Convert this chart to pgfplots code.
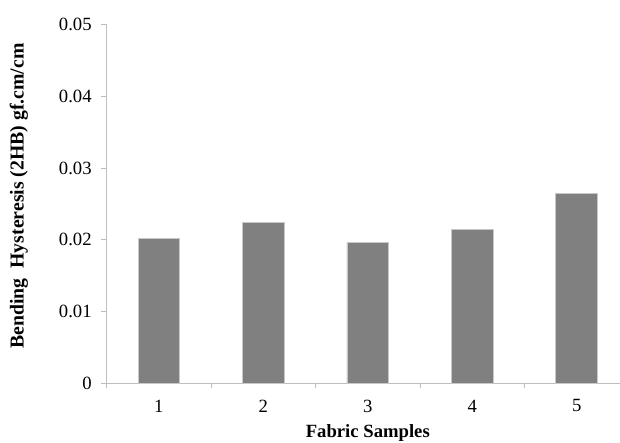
\documentclass[border=0pt]{standalone}
\usepackage{fontspec}
\setmainfont{Liberation Serif}
\usepackage{pgfplots}
\pgfplotsset{compat=1.18}
\definecolor{barfill}{RGB}{128,128,128}
\definecolor{baredge}{RGB}{200,200,200}
\definecolor{axgray}{RGB}{190,190,190}
\begin{document}
\fontsize{14pt}{16pt}\selectfont
\begin{tikzpicture}
\begin{axis}[
  name=ax, at={(0,0)}, anchor=south west,
  scale only axis, width=391.7pt, height=268.7pt,
  xmin=0.5, xmax=5.5, ymin=0, ymax=0.05,
  ybar, bar width=0.4,
  axis x line*=bottom, axis y line*=left,
  axis line style={-, draw=axgray, line width=0.75pt},
  tick align=outside, major tick length=3.9pt,
  tick style={draw=axgray, line width=0.75pt},
  scaled y ticks=false,
  ytick={0,0.01,0.02,0.03,0.04,0.05},
  yticklabels={0,0.01,0.02,0.03,0.04,0.05},
  yticklabel style={xshift=-2.5pt},
  xtick={0.5,1.5,2.5,3.5,4.5},
  xticklabels={},
  extra x ticks={1,2,3,4,5},
  extra x tick labels={1,2,3,4,5},
  extra x tick style={major tick length=0pt, xticklabel style={yshift=-7.7pt}},
  /pgf/number format/assume math mode=true,
  ticklabel style={font=\fontsize{14pt}{16pt}\selectfont},
  xlabel={\bfseries Fabric Samples},
  ylabel={\bfseries Bending\ \ Hysteresis (2HB) gf.cm/cm},
  xlabel style={font=\fontsize{14pt}{16pt}\selectfont, at={(axis description cs:0.5,-0.099)}, anchor=north},
  ylabel style={font=\fontsize{14.8pt}{17pt}\selectfont, at={(axis description cs:-0.168,0.522)}, anchor=center},
]
\addplot[fill=barfill, draw=baredge, line width=0.5pt]
  coordinates {(1,0.02019) (2,0.02243) (3,0.01963) (4,0.02139) (5,0.02651)};
\end{axis}
\pgfresetboundingbox
\path[use as bounding box] (ax.south west) ++(-80pt,-44.25pt) rectangle ++(465pt,331.5pt);
\end{tikzpicture}
\end{document}
